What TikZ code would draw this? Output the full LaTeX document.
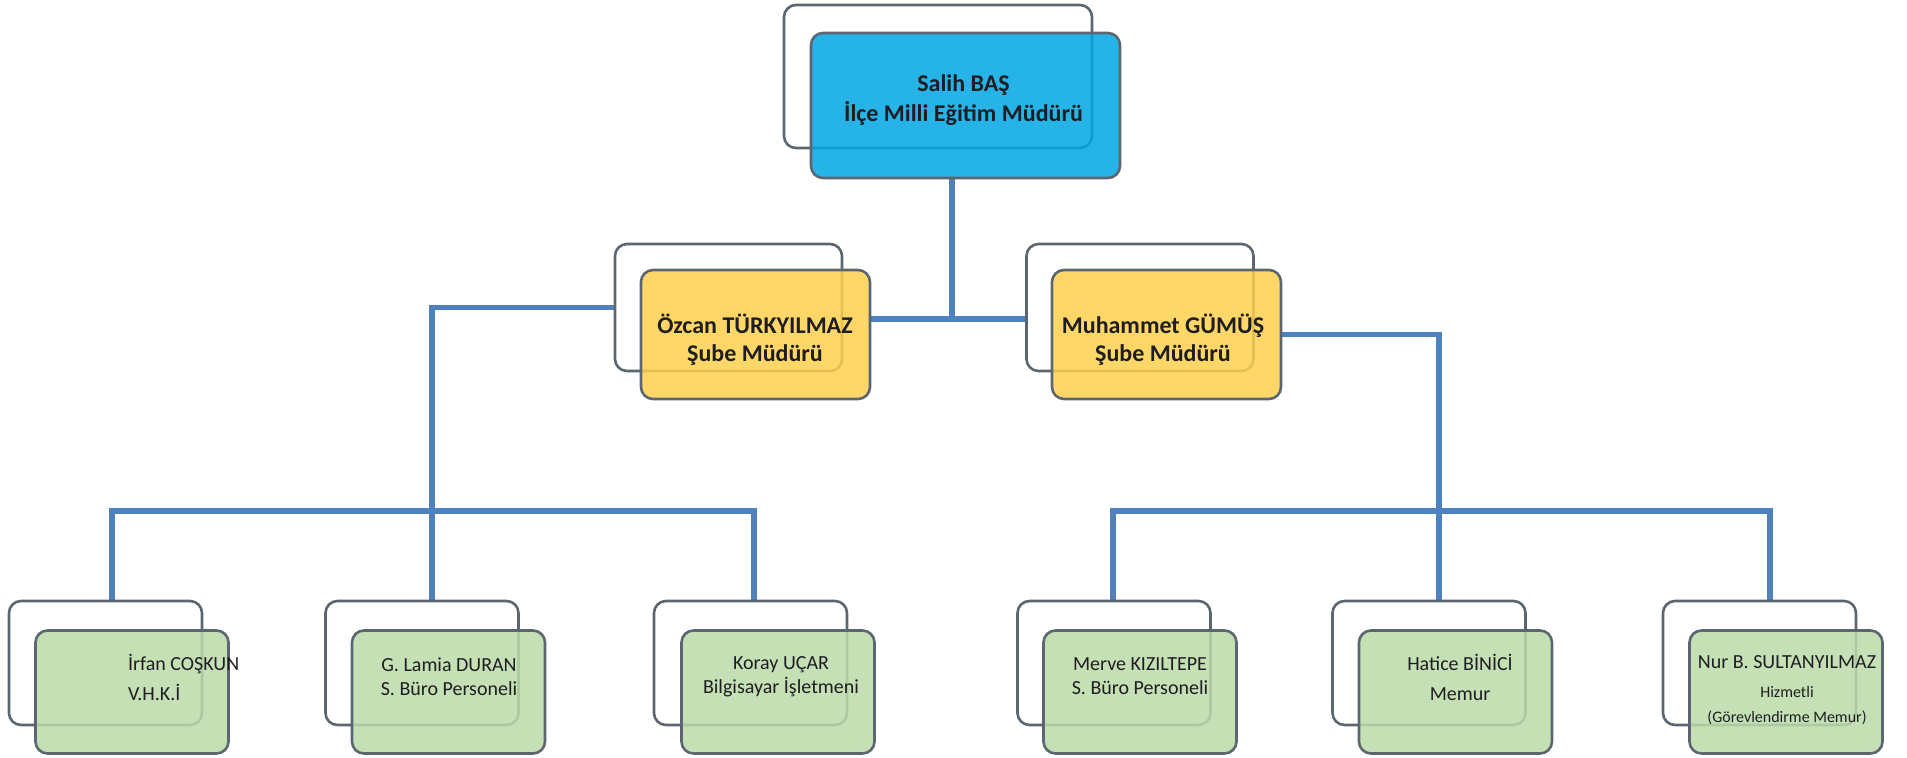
\documentclass[tikz,border=0pt]{standalone}
\usepackage{fontspec}
\setmainfont{Carlito}
\usetikzlibrary{backgrounds}
\definecolor{lineblue}{RGB}{79,129,189}
\definecolor{boxgray}{RGB}{92,102,112}
\definecolor{topblue}{RGB}{0,166,228}
\definecolor{midyellow}{RGB}{255,208,78}
\definecolor{lowgreen}{RGB}{188,219,168}
\definecolor{textdark}{RGB}{30,30,34}
\begin{document}
\begin{tikzpicture}[x=0.5pt,y=-0.5pt,
		backbox/.style={draw=boxgray,line width=1.3pt,fill=white,rounded corners=6pt,inner sep=0pt},
		frontbox/.style={draw=boxgray,line width=1.3pt,rounded corners=6pt,inner sep=0pt,fill opacity=.85},
		lowback/.style={backbox,minimum width=96.5pt,minimum height=62pt},
		lowfront/.style={frontbox,fill=lowgreen,minimum width=96.5pt,minimum height=61.5pt},
		conn/.style={draw=lineblue,line width=2.6pt},
		boss/.style={font=\fontsize{12}{14}\selectfont\bfseries,text=textdark,align=center},
		staff/.style={font=\fontsize{10}{12}\selectfont,text=textdark,align=center}]
	\useasboundingbox (0,0) rectangle (1907,757);

	% mudur
	\node[backbox,minimum width=154pt,minimum height=71.5pt] (salihB) at (938,76.5) {};
	\node[frontbox,fill=topblue,minimum width=154.5pt,minimum height=72.5pt] (salih) at (965.5,105.5) {};
	\node[boss,font=\fontsize{12}{15}\selectfont\bfseries] (salihT) at (963.5,100)
		{Salih BAŞ\\İlçe Milli Eğitim Müdürü};

	% sube mudurleri
	\node[backbox,minimum width=113.5pt,minimum height=63.5pt] (ozcanB) at (728.5,307.5) {};
	\node[frontbox,fill=midyellow,minimum width=114.5pt,minimum height=64.5pt] (ozcan) at (755.5,334.5) {};
	\node[boss] (ozcanT) at (755,339.5)
		{Özcan TÜRKYILMAZ\\Şube Müdürü};
	\node[backbox,minimum width=113.5pt,minimum height=63.5pt] (muhammetB) at (1140,307.5) {};
	\node[frontbox,fill=midyellow,minimum width=114.5pt,minimum height=64.5pt] (muhammet) at (1166.5,334.5) {};
	\node[boss] (muhammetT) at (1163,339.5)
		{Muhammet GÜMÜŞ\\Şube Müdürü};

	% personel
	\node[lowback] (irfanB) at (105.5,663) {};
	\node[lowfront] (irfan) at (132,692) {};
	\node[staff,align=left,anchor=west,font=\fontsize{10}{15}\selectfont] (irfanT) at (121,677)
		{İrfan COŞKUN\\V.H.K.İ};
	\node[lowback] (lamiaB) at (422,663) {};
	\node[lowfront] (lamia) at (448.5,692) {};
	\node[staff] (lamiaT) at (449,676.5)
		{G. Lamia DURAN\\S. Büro Personeli};
	\node[lowback] (korayB) at (750.5,663) {};
	\node[lowfront] (koray) at (778,692) {};
	\node[staff] (korayT) at (781,676.5)
		{Koray UÇAR\\Bilgisayar İşletmeni};
	\node[lowback] (merveB) at (1114,663) {};
	\node[lowfront] (merve) at (1140,692) {};
	\node[staff] (merveT) at (1140,676)
		{Merve KIZILTEPE\\S. Büro Personeli};
	\node[lowback] (haticeB) at (1429,663) {};
	\node[lowfront] (hatice) at (1455.5,692) {};
	\node[staff,font=\fontsize{10}{15}\selectfont] (haticeT) at (1460,677.5)
		{Hatice BİNİCİ\\Memur};
	\node[lowback] (nurB) at (1759.5,663) {};
	\node[lowfront] (nur) at (1786,692) {};
	\node[staff,font=\fontsize{10}{12.5}\selectfont] (nurT) at (1787,690)
		{Nur B. SULTANYILMAZ\\[2pt]{\fontsize{8}{10}\selectfont Hizmetli}\\{\fontsize{8}{10}\selectfont (Görevlendirme Memur)}};

	% baglantilar
	\coordinate (top) at (952,319);
	\coordinate (lb1) at (112,511);
	\coordinate (lb2) at (432,511);
	\coordinate (lb3) at (754,511);
	\coordinate (rb1) at (1113,511);
	\coordinate (rb2) at (1439,511);
	\coordinate (rb3) at (1770,511);
	\begin{scope}[on background layer]
		\draw[conn] (top |- salih.south) -- (top);
		\draw[conn] (ozcan.east |- top) -- (muhammetB.west |- top);
		\draw[conn] (ozcanB.west) -| (lb2) -- (lb2 |- lamiaB.north);
		\draw[conn] (lb1 |- irfanB.north) -- (lb1) -- (lb3) -- (lb3 |- korayB.north);
		\draw[conn] (muhammet.east) -| (rb2) -- (rb2 |- haticeB.north);
		\draw[conn] (rb1 |- merveB.north) -- (rb1) -- (rb3) -- (rb3 |- nurB.north);
	\end{scope}
\end{tikzpicture}
\end{document}
